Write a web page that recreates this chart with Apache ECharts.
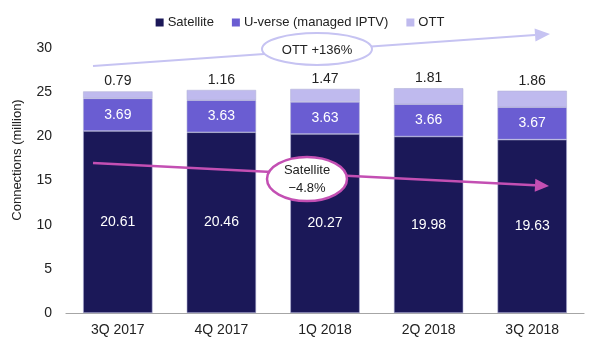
<!DOCTYPE html>
<html>
<head>
<meta charset="utf-8">
<script src="https://cdn.jsdelivr.net/npm/echarts@6/dist/echarts.min.js"></script>
<style>
  html, body { margin: 0; padding: 0; background: #fff; }
  #chart { width: 600px; height: 348px; }
</style>
</head>
<body>
<div id="chart"></div>
<script>
// Pay-TV connections by quarter (million)
const quarters = ['3Q 2017', '4Q 2017', '1Q 2018', '2Q 2018', '3Q 2018'];
const satellite = [20.61, 20.46, 20.27, 19.98, 19.63];
const uverse = [3.69, 3.63, 3.63, 3.66, 3.67];
const ott = [0.79, 1.16, 1.47, 1.81, 1.86];
const yTicks = [0, 5, 10, 15, 20, 25, 30];

const FONT = '"Liberation Sans", Arial, sans-serif';
const TXT = '#222';
const C_SAT = '#1b1858';
const C_UV = '#6a5dd2';
const C_OTT = '#bfbaee';
const C_OTT_LINE = '#c6c3f2';
const C_SAT_LINE = '#c34fb3';

// Trend arrow: shaft plus triangular head
function arrow(x1, y1, x2, y2, color, width, headLen, headHalf) {
  const dx = x2 - x1, dy = y2 - y1, len = Math.hypot(dx, dy);
  const ux = dx / len, uy = dy / len, nx = -uy, ny = ux;
  const bx = x2 - ux * headLen, by = y2 - uy * headLen;
  return [
    { type: 'line', z: 10, shape: { x1, y1, x2: bx, y2: by },
      style: { stroke: color, lineWidth: width } },
    { type: 'polygon', z: 10,
      shape: { points: [[x2, y2], [bx + nx * headHalf, by + ny * headHalf], [bx - nx * headHalf, by - ny * headHalf]] },
      style: { fill: color } }
  ];
}

const chart = echarts.init(document.getElementById('chart'), null, { renderer: 'canvas' });

const barBorder = { borderColor: '#b4b4d8', borderWidth: 0.6 };

chart.setOption({
  animation: false,
  textStyle: { fontFamily: FONT },
  legend: {
    top: 11,
    left: 'center',
    itemWidth: 8,
    itemHeight: 8,
    itemGap: 18,
    icon: 'rect',
    itemStyle: { borderWidth: 0 },
    textStyle: { fontFamily: FONT, fontSize: 13, color: TXT, padding: [0, 0, 0, -1] },
    data: ['Satellite', 'U-verse (managed IPTV)', 'OTT']
  },
  grid: { left: 66, right: 16, top: 48, bottom: 35 },
  xAxis: {
    type: 'category',
    data: quarters,
    axisLine: { lineStyle: { color: '#a6a6a6', width: 1.2 } },
    axisTick: { show: false },
    axisLabel: { fontFamily: FONT, fontSize: 14, color: TXT, margin: 10 }
  },
  yAxis: {
    type: 'value',
    min: yTicks[0],
    max: yTicks[yTicks.length - 1],
    interval: 5,
    splitLine: { show: false },
    axisLine: { show: false },
    axisTick: { show: false },
    axisLabel: { fontFamily: FONT, fontSize: 14, color: TXT, margin: 14 }
  },
  series: [
    {
      name: 'Satellite', type: 'bar', stack: 'total', barWidth: '67%',
      data: satellite,
      itemStyle: Object.assign({ color: C_SAT }, barBorder),
      label: { show: true, position: 'inside', color: '#fff', fontFamily: FONT, fontSize: 14 }
    },
    {
      name: 'U-verse (managed IPTV)', type: 'bar', stack: 'total',
      data: uverse,
      itemStyle: Object.assign({ color: C_UV }, barBorder),
      label: { show: true, position: 'inside', color: '#fff', fontFamily: FONT, fontSize: 14 }
    },
    {
      name: 'OTT', type: 'bar', stack: 'total',
      data: ott,
      itemStyle: Object.assign({ color: C_OTT }, barBorder),
      label: { show: true, position: 'top', distance: 3, color: TXT, fontFamily: FONT, fontSize: 14 }
    }
  ],
  graphic: [
    // axis title
    { type: 'text', z: 10, x: 17, y: 160, rotation: Math.PI / 2,
      style: { text: 'Connections (million)', fontFamily: FONT, fontSize: 13, fill: TXT,
               align: 'center', verticalAlign: 'middle' } },
    // OTT growth arrow
    ...arrow(93, 66, 550, 34, C_OTT_LINE, 2, 15, 6.5),
    { type: 'ellipse', z: 11, shape: { cx: 317, cy: 49, rx: 55, ry: 16 },
      style: { fill: '#fff', stroke: C_OTT_LINE, lineWidth: 2 } },
    { type: 'text', z: 12, x: 317, y: 50,
      style: { text: 'OTT +136%', fontFamily: FONT, fontSize: 13, fill: TXT,
               align: 'center', verticalAlign: 'middle' } },
    // Satellite decline arrow
    ...arrow(93, 163, 549, 186, C_SAT_LINE, 2.5, 14, 6.5),
    { type: 'ellipse', z: 11, shape: { cx: 307, cy: 179, rx: 40, ry: 22 },
      style: { fill: '#fff', stroke: C_SAT_LINE, lineWidth: 2.5 } },
    { type: 'text', z: 12, x: 307, y: 179,
      style: { text: 'Satellite\n\u22124.8%', fontFamily: FONT, fontSize: 13, lineHeight: 18, fill: TXT,
               align: 'center', verticalAlign: 'middle' } }
  ]
});
</script>
</body>
</html>
